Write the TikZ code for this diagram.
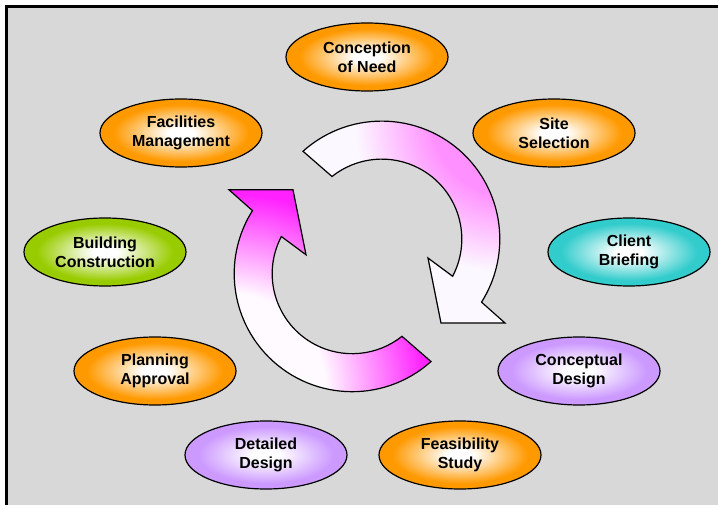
\documentclass[tikz,border=0pt]{standalone}
\usepackage{fontspec}
\setmainfont{Liberation Sans}
\usetikzlibrary{shapes.geometric}

\definecolor{bgc}{HTML}{D8D8D8}
\definecolor{orangeC}{HTML}{FF9900}
\definecolor{greenC}{HTML}{99CC00}
\definecolor{tealC}{HTML}{33CCCC}
\definecolor{lavC}{HTML}{CC99FF}
\definecolor{toppink}{HTML}{FF90FF}
\definecolor{topwhite}{HTML}{FCF8FF}
\definecolor{botmag}{HTML}{FF22FF}
\definecolor{botmid}{HTML}{FF99FF}
\definecolor{botwhite}{HTML}{FFFAFF}

\newcommand\mkradial[2]{\pgfdeclareradialshading{#1}{\pgfpointorigin}{color(0bp)=(white); color(4bp)=(white); color(21bp)=(#2); color(50bp)=(#2)}}
\mkradial{orangeshade}{orangeC}
\mkradial{greenshade}{greenC}
\mkradial{tealshade}{tealC}
\mkradial{lavshade}{lavC}

% radial shadings drawn on a circle of radius 300 (1bp = 12 units)
\pgfdeclareradialshading{topradial}{\pgfpointorigin}{color(0bp)=(toppink); color(6bp)=(toppink); color(12.5bp)=(topwhite); color(50bp)=(topwhite)}
\pgfdeclareradialshading{botradial}{\pgfpointorigin}{color(0bp)=(botwhite); color(8bp)=(botwhite); color(11.7bp)=(botmid); color(16.3bp)=(botmag); color(50bp)=(botmag)}

\begin{document}
\begin{tikzpicture}[x=1pt,y=1pt,
  stage/.style={ellipse, draw=black, line width=1.2pt, minimum width=162pt,
    minimum height=68pt, inner sep=0pt, align=center,
    font=\bfseries\fontsize{16}{19}\selectfont, text=black},
  orangestage/.style={stage, shading=orangeshade},
  greenstage/.style={stage, shading=greenshade},
  tealstage/.style={stage, shading=tealshade},
  lavstage/.style={stage, shading=lavshade},
  cyclearrow/.style={draw=black, line width=1.2pt, line join=miter},
  toparrow/.style={shift={(381.8,-239.1)}},
  botarrow/.style={rotate around={180:(367,-256.4)}, shift={(381.8,-239.1)}}]
\useasboundingbox (0,0) rectangle (718,-505);
\fill[white] (0,0) rectangle (718,-505);
\fill[bgc] (6.5,-6.5) rectangle (718,-505);
\draw[line width=3pt] (6.5,-505) -- (6.5,-6.5) -- (718,-6.5);

% upper cycle arrow
\begin{scope}
\clip[toparrow]
  (131.9:118) arc[start angle=131.9, end angle=-32.3, radius=118]
  -- (123.2,-83.9) -- (59.2,-83.9) -- (46.2,-18.9)
  -- (-27.7:80) arc[start angle=-27.7, end angle=128.5, radius=80] -- cycle;
\shade[shading=topradial] (505,-122) circle[radius=300];
\end{scope}
\draw[cyclearrow, toparrow]
  (131.9:118) arc[start angle=131.9, end angle=-32.3, radius=118]
  -- (123.2,-83.9) -- (59.2,-83.9) -- (46.2,-18.9)
  -- (-27.7:80) arc[start angle=-27.7, end angle=128.5, radius=80] -- cycle;

% lower cycle arrow
\begin{scope}
\clip[botarrow]
  (131.9:118) arc[start angle=131.9, end angle=-32.3, radius=118]
  -- (123.2,-83.9) -- (59.2,-83.9) -- (46.2,-18.9)
  -- (-27.7:80) arc[start angle=-27.7, end angle=128.5, radius=80] -- cycle;
\shade[shading=botradial] (229,-389) circle[radius=300];
\end{scope}
\draw[cyclearrow, botarrow]
  (131.9:118) arc[start angle=131.9, end angle=-32.3, radius=118]
  -- (123.2,-83.9) -- (59.2,-83.9) -- (46.2,-18.9)
  -- (-27.7:80) arc[start angle=-27.7, end angle=128.5, radius=80] -- cycle;

% stages
\node[orangestage] (need) at (367,-57) {Conception\\of Need};
\node[orangestage] (site) at (554,-133) {Site\\Selection};
\node[tealstage] (brief) at (629,-252) {Client\\Briefing};
\node[lavstage] (concept) at (579,-371) {Conceptual\\Design};
\node[orangestage] (feas) at (460,-455) {Feasibility\\Study};
\node[lavstage] (detail) at (266,-455) {Detailed\\Design};
\node[orangestage] (plan) at (155,-371) {Planning\\Approval};
\node[greenstage] (build) at (105,-252) {Building\\Construction};
\node[orangestage] (fac) at (181,-133) {Facilities\\Management};
\end{tikzpicture}
\end{document}
